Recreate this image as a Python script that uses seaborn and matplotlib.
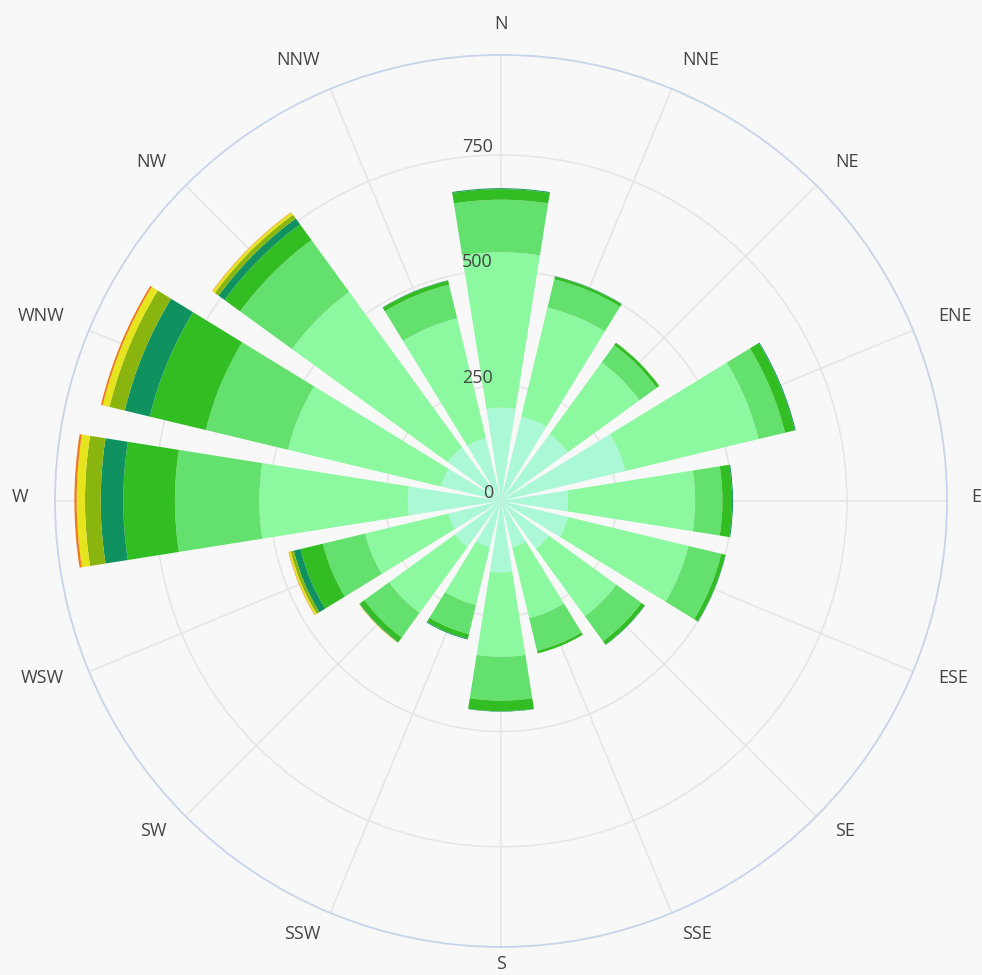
import numpy as np
import pandas as pd
import matplotlib
matplotlib.use("Agg")
import matplotlib.pyplot as plt
import matplotlib.transforms as mtransforms
import seaborn as sns

# wind directions (compass, clockwise from north)
directions = ["N", "NNE", "NE", "ENE", "E", "ESE", "SE", "SSE",
              "S", "SSW", "SW", "WSW", "W", "WNW", "NW", "NNW"]
angles_deg = [0, 22.5, 45, 67.5, 90, 112.5, 135, 157.5,
              180, 202.5, 225, 247.5, 270, 292.5, 315, 337.5]

# stacked series, innermost first
speed_bins = ["0-1", "1-2", "2-3", "3-4", "4-5", "5-6", "6-7", "7+"]
s_0_1 = [202, 188, 179, 277, 145, 149, 128, 103, 155, 103, 123, 117, 202, 133, 143, 140]
s_1_2 = [337, 243, 192, 297, 276, 269, 181, 158, 183, 129, 177, 186, 322, 342, 417, 267]
s_2_3 = [114, 63, 46, 59, 59, 73, 67, 73, 95, 65, 66, 94, 183, 183, 139, 75]
s_3_4 = [23, 6, 7, 22, 21, 9, 9, 6, 23, 10, 11, 50, 112, 125, 42, 9]
s_4_5 = [2, 1, 0, 2, 2, 1, 1, 0, 1, 2, 2, 15, 49, 56, 16, 1]
s_5_6 = [0, 0, 0, 0, 0, 0, 0, 0, 0, 0, 1, 7, 34, 34, 10, 0]
s_6_7 = [0, 0, 0, 0, 0, 0, 0, 0, 0, 0, 1, 4, 18, 15, 6, 0]
s_7p = [0, 0, 0, 0, 0, 0, 0, 0, 0, 0, 0, 1, 5, 4, 1, 0]
series = [s_0_1, s_1_2, s_2_3, s_3_4, s_4_5, s_5_6, s_6_7, s_7p]

palette = ["#aaf8d6", "#8cf8a0", "#64e06e", "#32be22",
           "#109260", "#8ab40e", "#e6e41c", "#f0781e"]

radial_ticks = [0, 250, 500, 750]
r_max = 967

BG = "#f8f8f8"
GRID = "#e6e6e6"
TEXT = "#444444"

sns.set_theme(style="white")
plt.rcParams["font.family"] = ["Open Sans", "DejaVu Sans"]

fig = plt.figure(figsize=(9.82, 9.75), dpi=100, facecolor=BG)
ax = fig.add_axes([0.056, 0.0288, 0.9084, 0.9149], projection="polar")
ax.set_facecolor(BG)
ax.set_theta_zero_location("N")
ax.set_theta_direction(-1)
ax.set_axisbelow(True)

theta = np.deg2rad(angles_deg)
bottom = np.zeros(len(directions))
for name, vals, col in zip(speed_bins, series, palette):
    df = pd.DataFrame({"theta": theta, "r": vals})
    sns.barplot(data=df, x="theta", y="r", native_scale=True, orient="x",
                color=col, saturation=1, errorbar=None, linewidth=0,
                bottom=bottom.copy(), ax=ax, zorder=2)
    bottom += np.array(vals)

ax.set_xlabel("")
ax.set_ylabel("")
ax.set_ylim(0, r_max)

ax.set_xticks(theta)
ax.set_xticklabels([])
ax.tick_params(axis="x", length=0)
ax.set_yticks(radial_ticks[1:])
ax.set_yticklabels([])
ax.grid(True, color=GRID, linewidth=1.2)
ax.spines["polar"].set_color("#c8d4ea")
ax.spines["polar"].set_linewidth(1.3)

# compass labels outside the rim, anchored towards the circle like plotly does
for lab, th in zip(directions, theta):
    d = 27
    if lab == "E":
        d = 24
    elif lab == "S":
        d = 21
    sx, cy = np.sin(th), np.cos(th)
    if sx > 0.1:
        ha = "left"
    elif sx < -0.1:
        ha = "right"
    else:
        ha = "center"
    tr = mtransforms.offset_copy(ax.transData, fig=fig,
                                 x=d * sx, y=d * cy + 4, units="dots")
    ax.text(th, r_max, lab, transform=tr, ha=ha, va="center",
            fontsize=13, color=TEXT, clip_on=False)

# radial tick labels just left of the north axis
lbl_tr = mtransforms.offset_copy(ax.transData, fig=fig, x=-8, y=3, units="dots")
for rv in radial_ticks:
    ax.text(0, rv, str(rv), transform=lbl_tr, ha="right", va="baseline",
            fontsize=13, color=TEXT, zorder=5)

fig.savefig("out.png", dpi=100, facecolor=BG)
